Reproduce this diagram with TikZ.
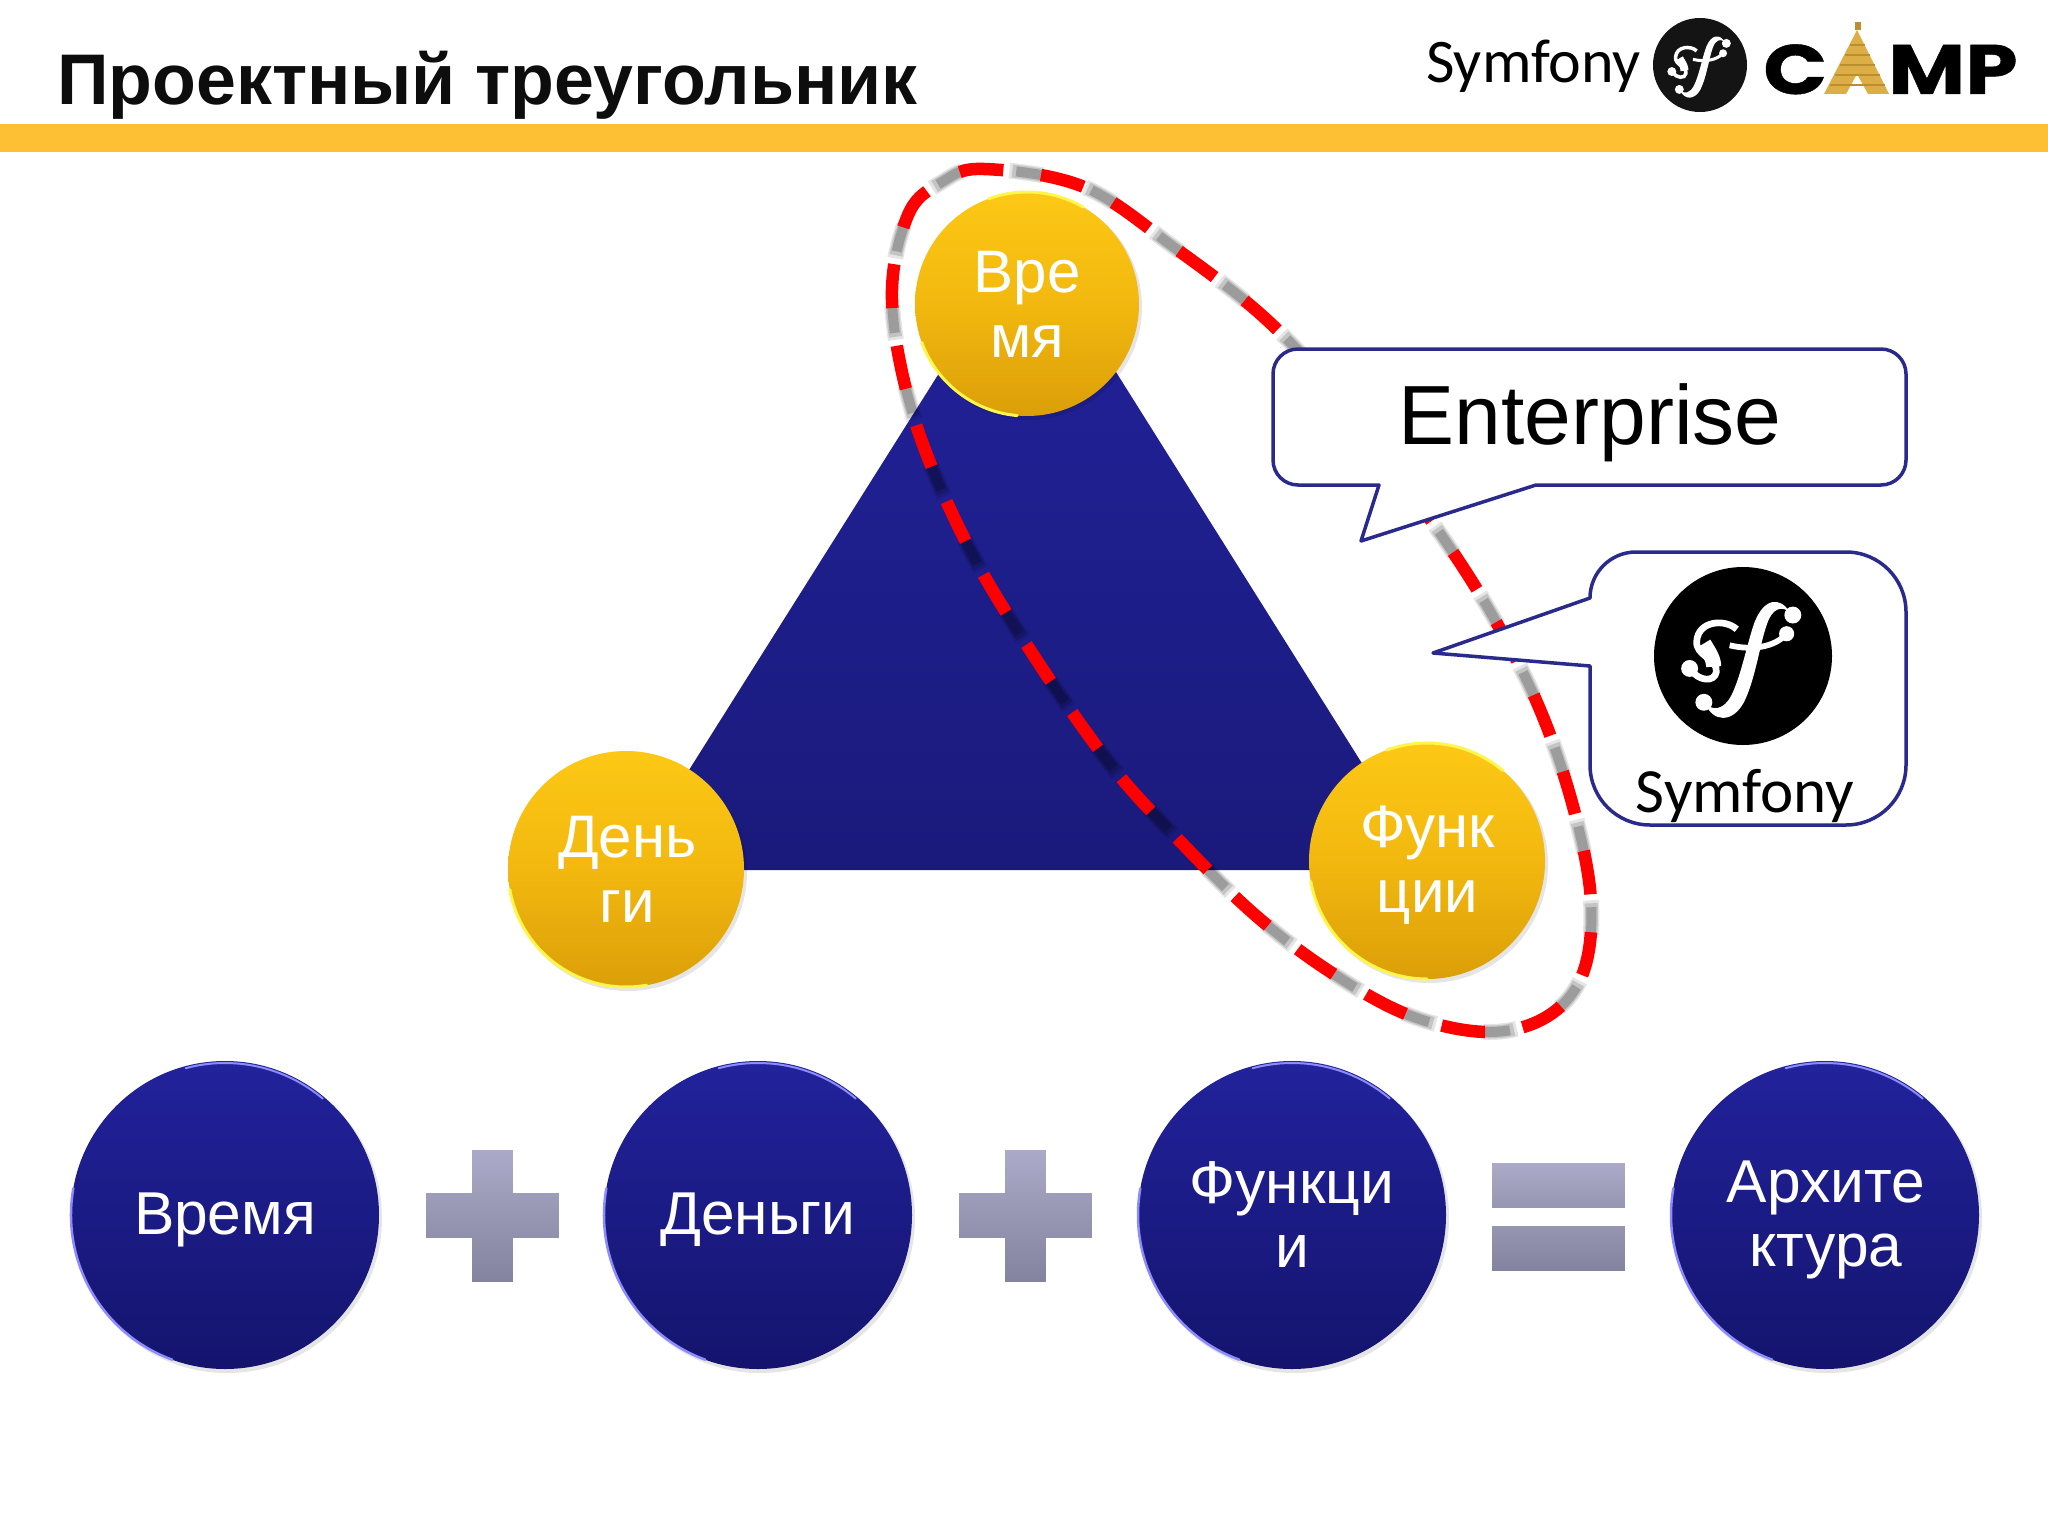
\documentclass[tikz,border=0pt]{standalone}
\usepackage{fontspec}
\setmainfont{Liberation Sans}
\newfontfamily\logofont{Carlito}
\newfontfamily\campfont[BoldFeatures={FakeBold=0.6,FakeStretch=1.2}]{Poppins}
\definecolor{barc}{HTML}{FDBF33}
\definecolor{navy}{HTML}{2A2A8C}
\definecolor{gold1}{HTML}{FDC815}
\definecolor{gold3}{HTML}{F2B80F}
\definecolor{gold2}{HTML}{DB9F08}
\definecolor{blue1}{HTML}{22229C}
\definecolor{blue2}{HTML}{14146E}
\definecolor{tri2}{HTML}{1A1A7C}
\definecolor{grey1}{HTML}{ABABC9}
\definecolor{greym}{HTML}{9696B2}
\definecolor{grey2}{HTML}{83839F}
\definecolor{dashred}{HTML}{FF0000}
\definecolor{tent}{HTML}{DCAE45}
\definecolor{tentd}{HTML}{B98F30}
\tikzset{
  goldc/.style={circle,minimum size=#1,inner sep=0pt,top color=gold1,bottom color=gold2,middle color=gold3},
  goldt/.style={inner sep=0pt,align=center,text=white,font=\fontsize{60}{65}\selectfont},
  bluec/.style={circle,minimum size=308pt,inner sep=0pt,top color=blue1,bottom color=blue2},
  bluet/.style={inner sep=0pt,align=center,text=white,font=\fontsize{60.5}{64}\selectfont},
  callout/.style={draw=navy,line width=3.5pt,fill=white,line join=round},
  opbar/.style={top color=grey1,bottom color=grey2,draw=white,line width=.8pt},
  rimlight/.style={draw=#1,line width=3pt,line cap=round},
  softshadow/.style={fill=black,opacity=.10},
  redd/.style={draw=dashred,line width=12.5pt,dash pattern=on 44pt off 38pt,dash phase=49pt},
}
\newcommand{\ringpath}{plot[smooth cycle,tension=.6] coordinates {(984,169) (1084,187) (1175,248) (1267,320) (1345,405) (1437,529) (1495,620) (1541,712) (1574,810) (1591,901) (1583,973) (1548,1016) (1489,1032) (1411,1016) (1332,973) (1254,914) (1175,836) (1110,764) (1032,653) (966,542) (914,418) (892,300) (908,215) (942,182)}}
% drawn sf emblem: #1 centre, #2 radius (pt)
\newcommand{\sfmark}[2]{%
\begin{scope}[shift={#1},x=#2pt,y=-#2pt,white]
\fill (0.52,-0.50) .. controls (0.42,-0.66) and (0.24,-0.66) .. (0.13,-0.38) .. controls (0.05,-0.16) and (-0.02,0.22) .. (-0.13,0.44) .. controls (-0.21,0.60) and (-0.33,0.62) .. (-0.42,0.54)
  .. controls (-0.34,0.74) and (-0.12,0.76) .. (0.01,0.52) .. controls (0.14,0.26) and (0.19,-0.14) .. (0.27,-0.36) .. controls (0.33,-0.54) and (0.43,-0.56) .. (0.52,-0.50) -- cycle;
\fill (0.56,-0.46) circle[radius=.095];
\fill (-0.44,0.52) circle[radius=.095];
\draw[line width=.065*#2 pt] (-0.15,-0.12) .. controls (0.1,-0.06) and (0.35,-0.10) .. (0.48,-0.24);
\fill (0.49,-0.25) circle[radius=.085];
\draw[line width=.075*#2 pt] (-0.07,-0.30) .. controls (-0.2,-0.42) and (-0.5,-0.40) .. (-0.52,-0.17) .. controls (-0.54,0) and (-0.28,0.03) .. (-0.30,0.18) .. controls (-0.32,0.30) and (-0.5,0.28) .. (-0.58,0.16);
\draw[line width=.17*#2 pt] (-0.44,-0.14) .. controls (-0.38,-0.04) and (-0.33,0.03) .. (-0.33,0.12);
\fill (-0.60,0.14) circle[radius=.095];
\end{scope}}
\begin{document}
\begin{tikzpicture}[x=1pt,y=-1pt]
\useasboundingbox (0,0) rectangle (2048,1536);
\fill[white] (0,0) rectangle (2048,1536);
% title + bar
\fill[barc] (0,124) rectangle (2048,152);
\node[anchor=base west,inner sep=0pt,text=black!95,font=\fontsize{71.7}{72}\selectfont\bfseries] (title) at (57,105) {Проектный треугольник};
% top logo
\node[anchor=base west,inner sep=0pt,font=\logofont\fontsize{62}{62}\selectfont] (sym1) at (1426,83) {Symfony};
\node[circle,fill=black!92,minimum size=94pt,inner sep=0pt] (sf1) at (1700,65) {};
\sfmark{(1700,65)}{47}
\node[anchor=base west,inner sep=0pt,font=\campfont\bfseries\fontsize{70}{70}\selectfont] (campc) at (1763,94) {C};
\draw[fill=tent,draw=none] (1889,94) -- (1857,30) -- (1824,94) -- (1846,94) -- (1857,74) -- (1868,94) -- cycle;
\foreach \yy in {45,55,65,75,85} \draw[tentd,line width=1.5pt] ({1857-(\yy-30)/2},\yy) -- ({1857+(\yy-30)/2},\yy);
\fill[tentd] (1855,22) rectangle (1861,30);
\node[anchor=base west,inner sep=0pt,font=\campfont\bfseries\fontsize{70}{70}\selectfont] (campmp) at (1888,94) {MP};
% triangle
\path[top color=blue1,bottom color=tri2] (1028,232) -- (1429,870) -- (626,870) -- cycle;
% dashed ring: soft shadow just ahead of each red dash, then red
\draw[black,opacity=.10,line width=16pt,dash pattern=on 34pt off 48pt,dash phase=81pt] \ringpath;
\draw[black,opacity=.14,line width=13pt,dash pattern=on 30pt off 52pt,dash phase=78pt] \ringpath;
\draw[black,opacity=.20,line width=10pt,dash pattern=on 26pt off 56pt,dash phase=74pt] \ringpath;
\draw[redd] \ringpath;
% gold circles
\fill[softshadow] (1029,307) circle[radius=113pt];
\fill[softshadow] (628,872) circle[radius=119pt];
\fill[softshadow] (1429,864) circle[radius=119pt];
\node[goldc=224pt] (time) at (1027,304) {};
\node[goldc=236pt] (money) at (626,869) {};
\node[goldc=236pt] (func) at (1427,861) {};
\node[goldt] (timet) at (1027,304) {Вре\\мя};
\node[goldt] (moneyt) at (627.5,869) {День\\ги};
\node[goldt] (funct) at (1427.5,865) {Функ\\ции};
\draw[rimlight=yellow!70!white] (time) ++(200:112pt) arc[start angle=200,end angle=265,radius=112pt];
\draw[rimlight=yellow!70!white] (time) ++(60:112pt) arc[start angle=60,end angle=110,radius=112pt];
\draw[rimlight=yellow!70!white] (money) ++(190:118pt) arc[start angle=190,end angle=280,radius=118pt];
\draw[rimlight=yellow!70!white] (func) ++(190:118pt) arc[start angle=190,end angle=270,radius=118pt];
\draw[rimlight=yellow!70!white] (func) ++(50:118pt) arc[start angle=50,end angle=110,radius=118pt];
% callouts
\draw[callout] (1298,349) -- (1881,349) arc[start angle=90,end angle=0,radius=25pt] -- (1906,460) arc[start angle=0,end angle=-90,radius=25pt]
  -- (1536,485) -- (1361,541) -- (1379,485) -- (1298,485) arc[start angle=-90,end angle=-180,radius=25pt] -- (1273,374) arc[start angle=180,end angle=90,radius=25pt] -- cycle;
\node[inner sep=0pt,font=\fontsize{84}{84}\selectfont] (ent) at (1590,423) {Enterprise};
\draw[callout] (1650,552) -- (1846,552) arc[start angle=90,end angle=0,radius=60pt] -- (1906,765) arc[start angle=0,end angle=-90,radius=60pt]
  -- (1650,825) arc[start angle=-90,end angle=-180,radius=60pt] -- (1590,666) -- (1433,653) -- (1590,598) arc[start angle=180,end angle=90,radius=46pt] -- cycle;
\node[circle,fill=black,minimum size=178pt,inner sep=0pt] (sf2) at (1743,656) {};
\sfmark{(1743,656)}{89}
\node[inner sep=0pt,anchor=base,font=\logofont\fontsize{63}{63}\selectfont] (sym2) at (1745,812) {Symfony};
% bottom row
\foreach \c in {225,758,1292,1825} \fill[softshadow] (\c+2,1218) circle[radius=155pt];
\node[bluec] (b1) at (225,1215) {};
\node[bluec] (b2) at (758,1215) {};
\node[bluec] (b3) at (1292,1215) {};
\node[bluec] (b4) at (1825,1215) {};
\node[bluet] (b1t) at (225,1220) {Время};
\node[bluet] (b2t) at (758,1220) {Деньги};
\node[bluet] (b3t) at (1292,1215) {Функци\\и};
\node[bluet] (b4t) at (1826,1220) {Архите\\ктура};
\foreach \c in {225,758,1292,1825}{
  \draw[rimlight=blue!45!white,line width=2.5pt] (\c,1215) ++(170:154pt) arc[start angle=170,end angle=250,radius=154pt];
  \draw[rimlight=blue!45!white,line width=2pt] (\c,1215) ++(50:152pt) arc[start angle=50,end angle=105,radius=152pt];
}
% operators
\foreach \cx in {492,1025}{
  \path[opbar] ({\cx-21},1149) -- ({\cx+21},1149) -- ({\cx+21},1192) -- ({\cx+67},1192) -- ({\cx+67},1238) -- ({\cx+21},1238) -- ({\cx+21},1282) -- ({\cx-21},1282) -- ({\cx-21},1238) -- ({\cx-67},1238) -- ({\cx-67},1192) -- ({\cx-21},1192) -- cycle;
}
\path[opbar,top color=grey1,bottom color=greym] (1491,1162) rectangle (1625,1208);
\path[opbar,top color=greym,bottom color=grey2] (1491,1225) rectangle (1625,1271);
\end{tikzpicture}
\end{document}
